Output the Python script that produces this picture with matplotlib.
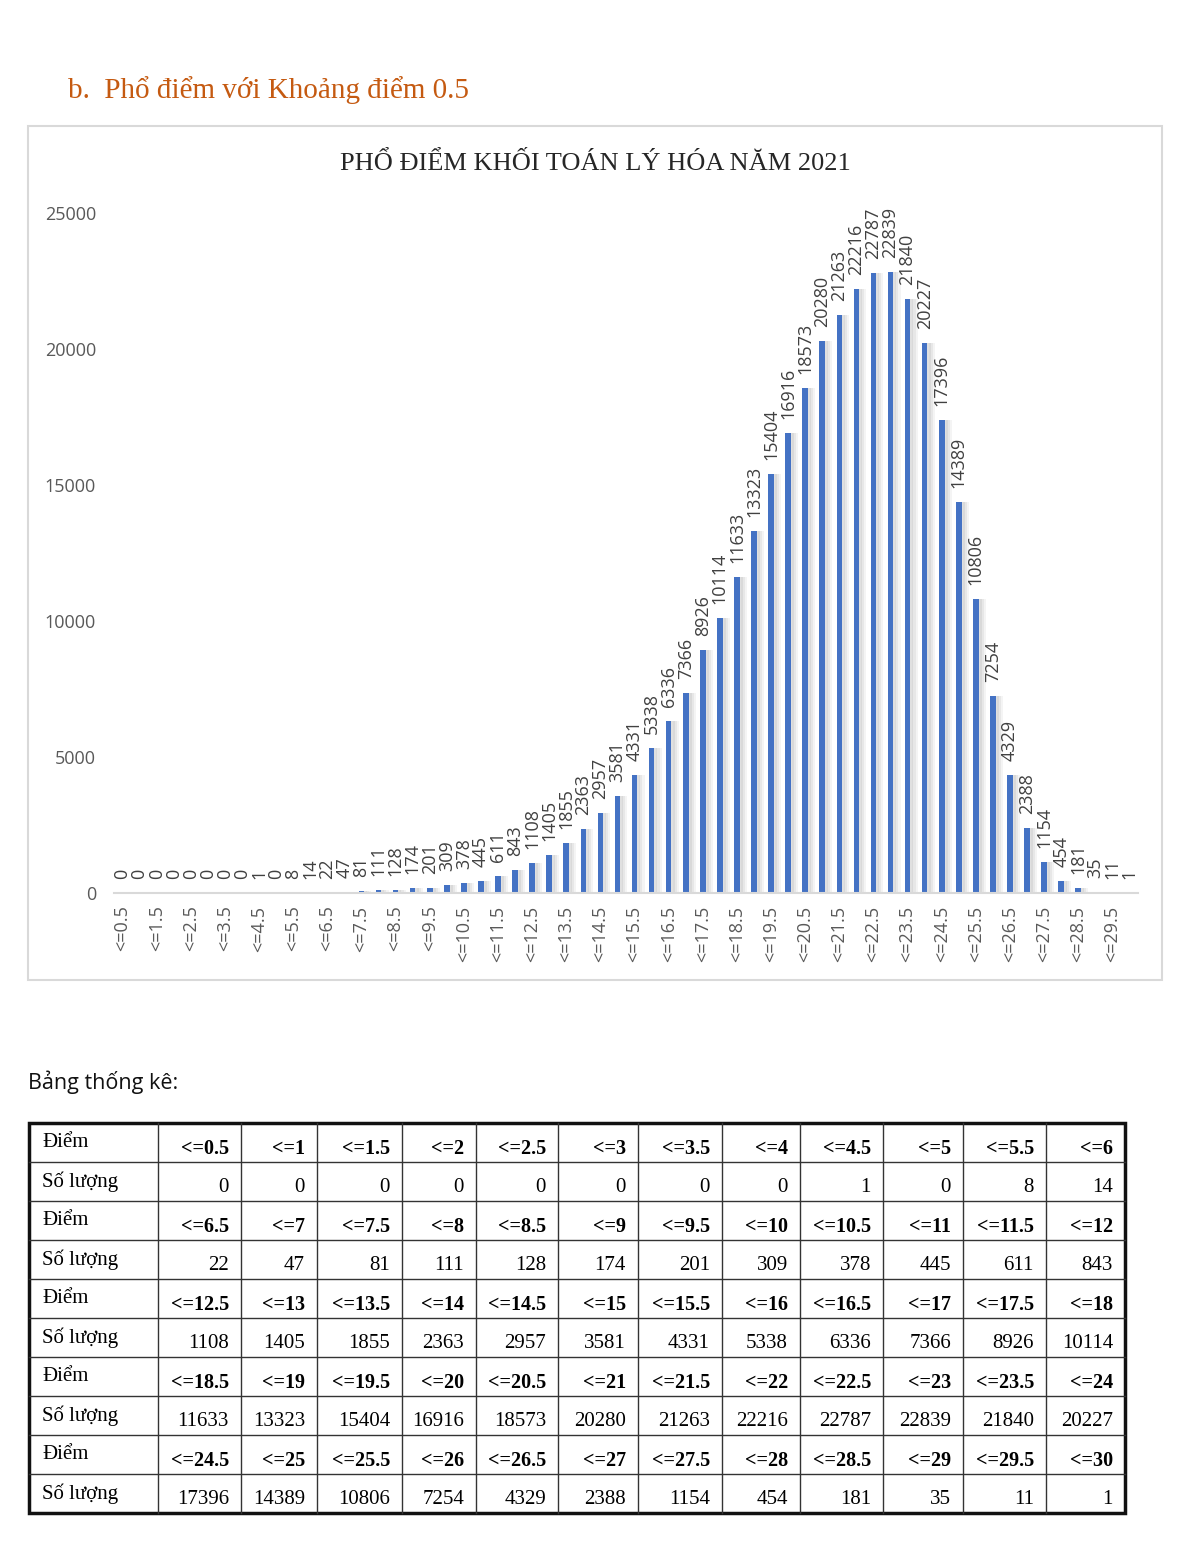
import matplotlib.pyplot as plt
from matplotlib.patches import Rectangle
import numpy as np

# so luong thi sinh theo tung khoang diem (0.5 diem mot khoang)
counts = [0, 0, 0, 0, 0, 0, 0, 0, 1, 0, 8, 14,
          22, 47, 81, 111, 128, 174, 201, 309, 378, 445, 611, 843,
          1108, 1405, 1855, 2363, 2957, 3581, 4331, 5338, 6336, 7366, 8926, 10114,
          11633, 13323, 15404, 16916, 18573, 20280, 21263, 22216, 22787, 22839, 21840, 20227,
          17396, 14389, 10806, 7254, 4329, 2388, 1154, 454, 181, 35, 11, 1]
labels = ["<=%g" % s for s in np.arange(0.5, 30.01, 0.5)]
yticks = [0, 5000, 10000, 15000, 20000, 25000]

heading = "b.  Phổ điểm với Khoảng điểm 0.5"
title = "PHỔ ĐIỂM KHỐI TOÁN LÝ HÓA NĂM 2021"
table_caption = "Bảng thống kê:"

W, H = 1200, 1555
fig = plt.figure(figsize=(W / 100, H / 100), dpi=100)

# background axes in pixel coordinates for heading, box and table
bg = fig.add_axes([0, 0, 1, 1])
bg.set_xlim(0, W); bg.set_ylim(H, 0); bg.axis("off")

bg.text(68, 90, heading, fontsize=21, family="Liberation Serif", color="#C55A11", va="center")
bg.add_patch(Rectangle((28, 126), 1134, 854, fill=False, edgecolor="#d9d9d9", lw=1.5))
bg.text(595, 164, title, fontsize=19, family="Liberation Serif", color="#262626", ha="center", va="center")

# chart
left, right, y0, ytop = 114, 1138, 893, 213
ax = fig.add_axes([left / W, 1 - y0 / H, (right - left) / W, (y0 - ytop) / H])
x = np.arange(len(counts))
for off, a in [(0.42, 0.10), (0.30, 0.14), (0.18, 0.18)]:
    ax.bar(x + off, counts, width=0.33, color="#9a9a9a", alpha=a, lw=0)
ax.bar(x, counts, width=0.33, color="#4472C4", lw=0)
for xi, v in zip(x, counts):
    ax.annotate(str(v), (xi, v), xytext=(0, 10), textcoords="offset points",
                rotation=90, ha="center", va="bottom", fontsize=13,
                family="Open Sans", color="#404040")
ax.set_xlim(-0.5, len(counts) - 0.5)
ax.set_ylim(0, 25000)
ax.set_yticks(yticks)
ax.set_yticklabels([str(t) for t in yticks], family="Open Sans", fontsize=13, color="#595959")
ax.set_xticks(x[::2])
ax.set_xticklabels(labels[::2], rotation=90, family="Open Sans", fontsize=13, color="#595959", va="top")
ax.tick_params(axis="both", length=0)
ax.tick_params(axis="x", pad=9)
ax.tick_params(axis="y", pad=13)
for s in ["top", "right", "left"]:
    ax.spines[s].set_visible(False)
ax.spines["bottom"].set_color("#d9d9d9")
ax.spines["bottom"].set_linewidth(1.5)
ax.patch.set_alpha(0)

# table
bg.text(28, 1082, table_caption, fontsize=15.5, family="Open Sans", color="#111111", va="center")
cols = [29, 158, 241, 317, 402, 476, 558, 638, 722, 800, 883, 963, 1046, 1125]
top, rh = 1123, 39
nrows = 10
for c in cols[1:-1]:
    bg.plot([c, c], [top, top + nrows * rh], color="#333333", lw=1)
for r in range(1, nrows):
    bg.plot([cols[0], cols[-1]], [top + r * rh] * 2, color="#333333", lw=1)
bg.add_patch(Rectangle((cols[0], top), cols[-1] - cols[0], nrows * rh, fill=False, edgecolor="#111111", lw=2.5))

for blk in range(5):
    ry = top + 2 * blk * rh
    bg.text(42, ry + rh / 2, "Điểm", fontsize=15, family="Liberation Serif", va="center")
    bg.text(42, ry + rh + rh / 2, "Số lượng", fontsize=15, family="Liberation Serif", va="center")
    for j in range(12):
        k = blk * 12 + j
        xr = cols[j + 2] - 12
        bg.text(xr, ry + rh / 2 + 6, labels[k], fontsize=14.5, family="Liberation Serif",
                weight="bold", ha="right", va="center")
        bg.text(xr, ry + rh + rh / 2 + 6, str(counts[k]), fontsize=15, family="Liberation Serif",
                ha="right", va="center")

fig.savefig("out.png", dpi=100)
